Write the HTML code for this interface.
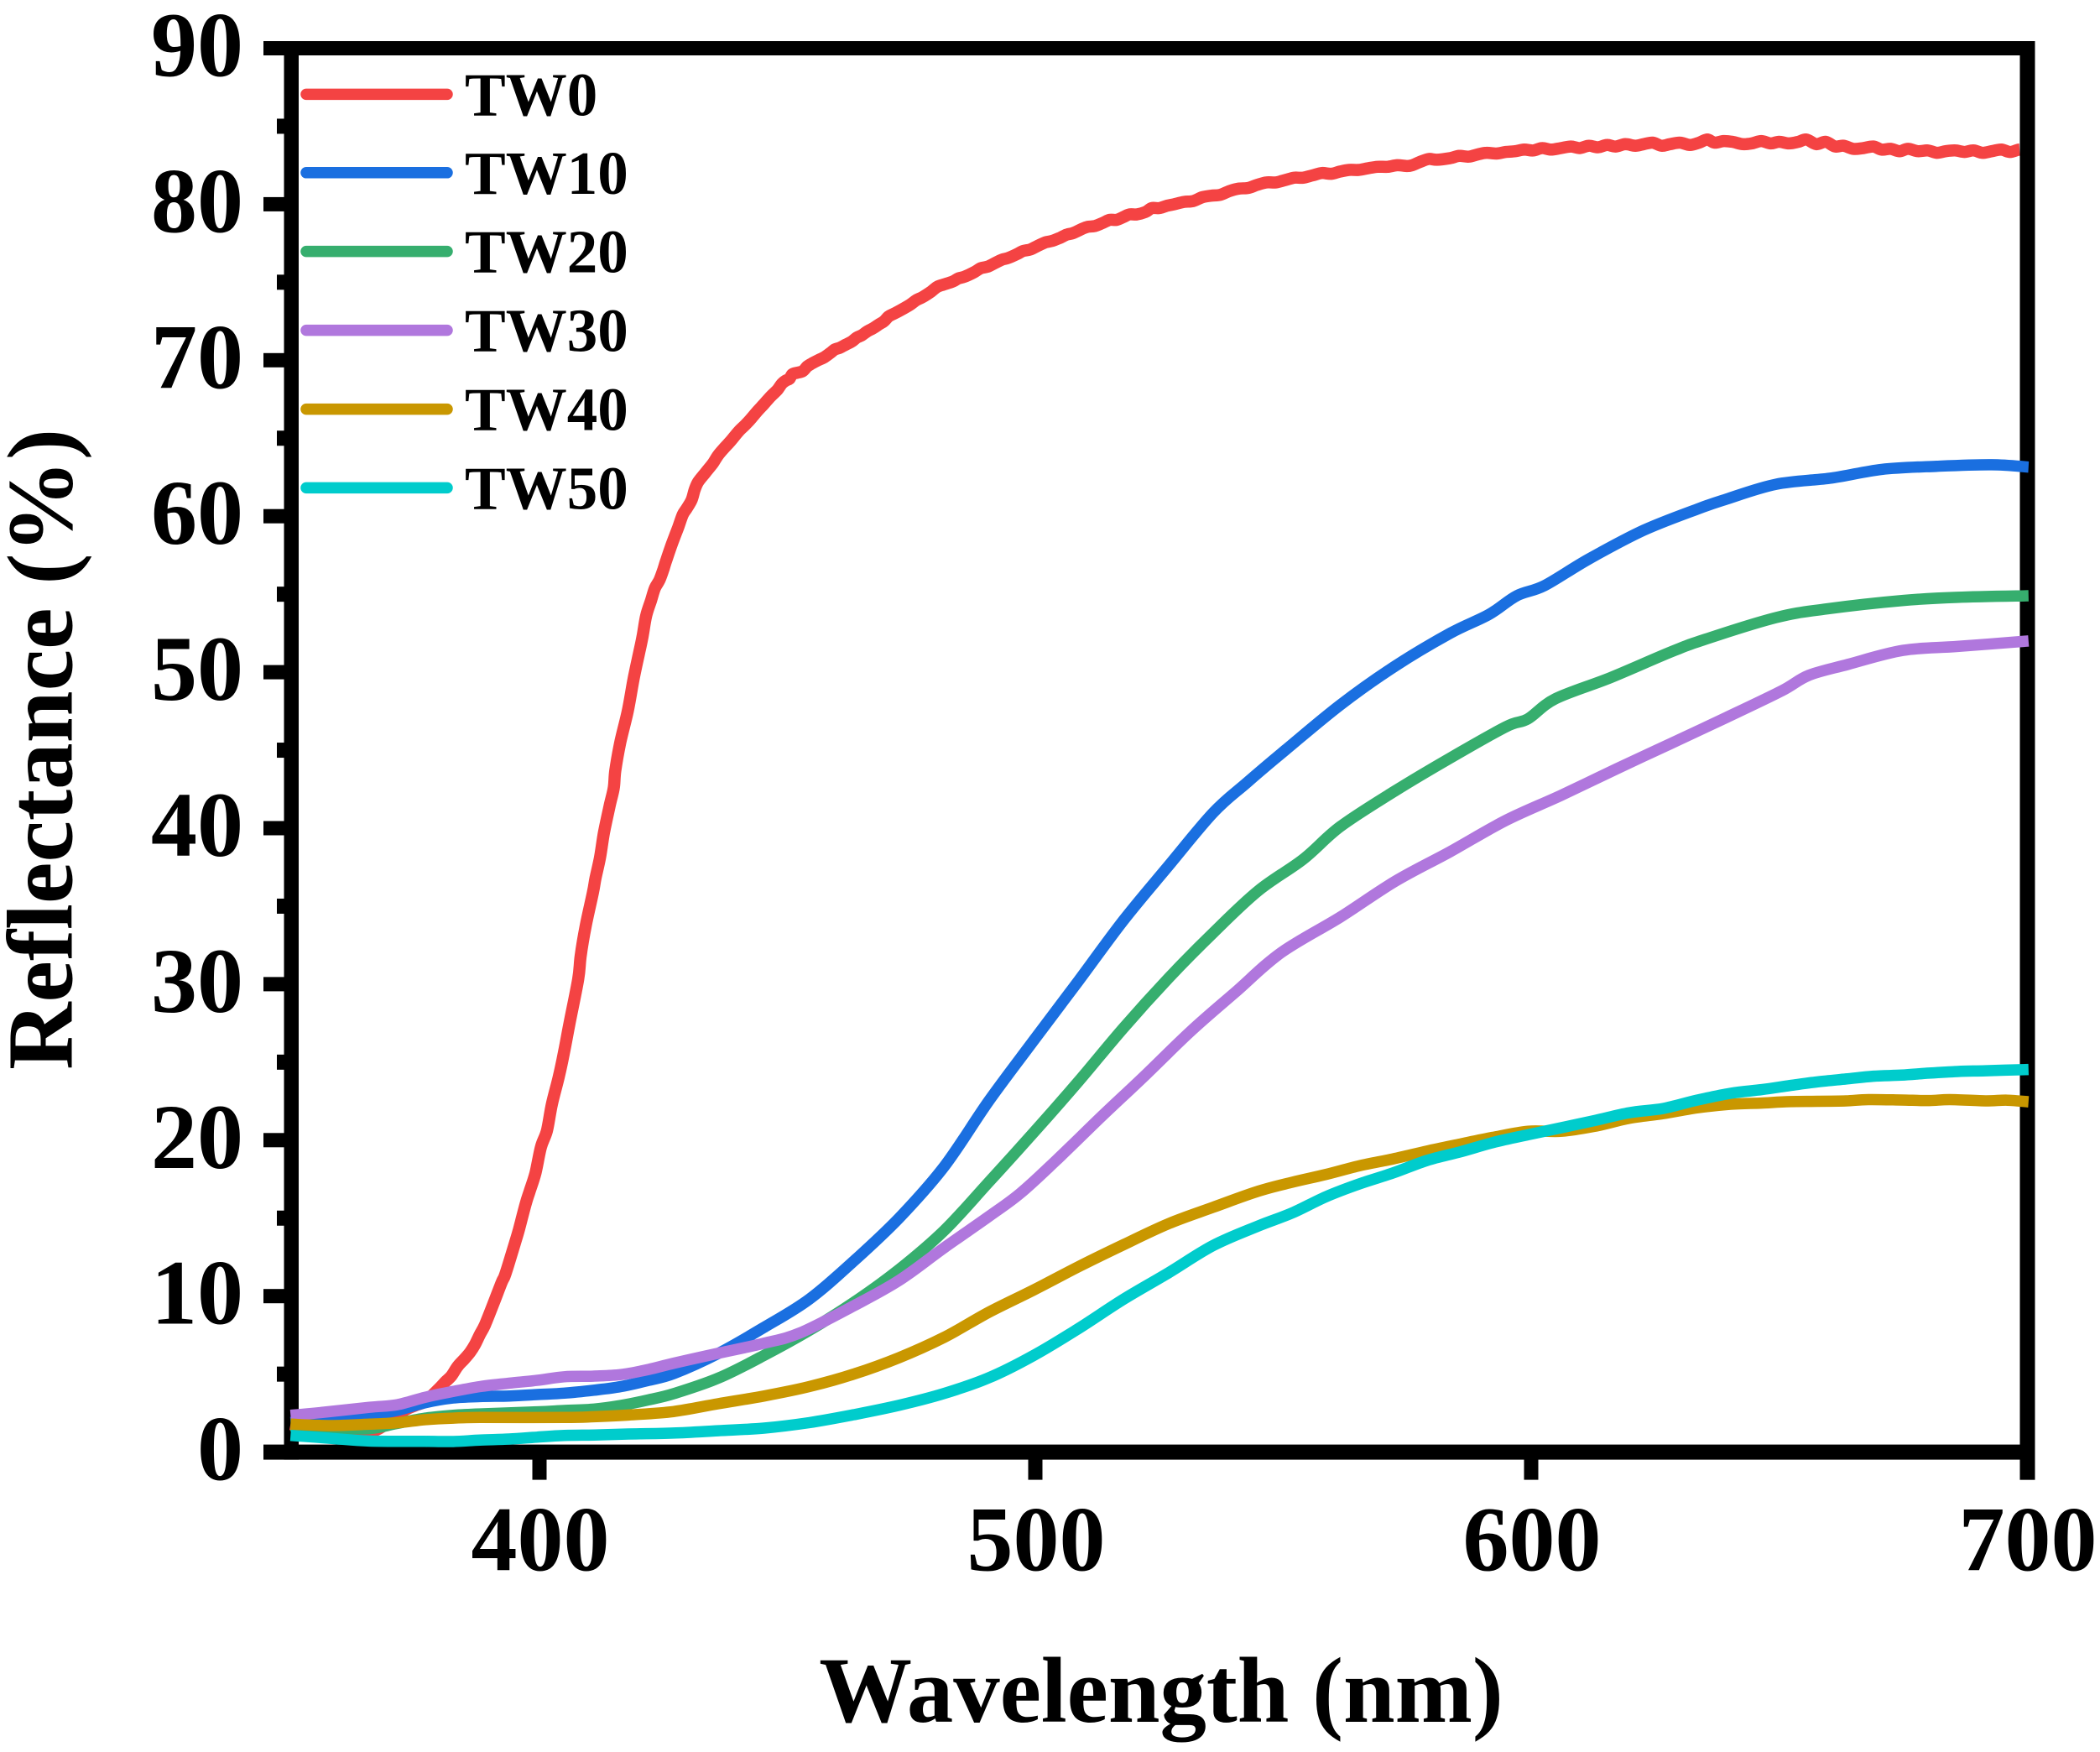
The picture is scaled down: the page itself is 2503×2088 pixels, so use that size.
<!DOCTYPE html>
<html>
<head>
<meta charset="utf-8">
<title>Reflectance spectra</title>
<style>
html,body{margin:0;padding:0;background:#fff}
svg{display:block}
text{font-family:"Liberation Serif",serif;font-weight:bold;fill:#000}
</style>
</head>
<body>
<svg id="chart" xmlns="http://www.w3.org/2000/svg" width="2503" height="2088" viewBox="0 0 2503 2088"></svg>
<script>
const xTickValues = [400, 500, 600, 700];
const yTickValues = [0, 10, 20, 30, 40, 50, 60, 70, 80, 90];
const yMinorValues = [5, 15, 25, 35, 45, 55, 65, 75, 85];
const xTitle = "Wavelength (nm)";
const yTitle = "Reflectance (%)";
const seriesNames = ["TW0", "TW10", "TW20", "TW30", "TW40", "TW50"];

const tw0Nm = [349.8,355,360,365.7,367.4,370,372.9,375,377,379.7,381,382.2,383.5,384.8,386,387,388,389,390.7,392.4,393,394.1,395,395.8,397.2,398,399.2,400.3,401.5,402.5,403.9,405,406,407.8,408.3,409.3,410.8,411.3,412.2,413,414.2,415,415.3,416.3,417.8,419,420,420.8,421.5,422.5,423.3,424.2,425,425.5,426.8,428,428.9,429.7,430.7,431.3,432,433.5,435,436,437.2,438.5,440.2,441.5,442.8,444,445.3,446.7,448,448.9,449.7,450.4,451,452,453.1,454,455,456.2,457.5,458.8,459.6,460.6,461.8,463,464,465,466.1,467.3,468.5,469.5,470.4,471.6,472.8,474.7,476,477.3,479,480.2,481.5,483.4,484.5,485.7,487.7,489,490.4,492,493.3,494.5,496.3,497.5,499,500.6,502,503.4,505,506.3,507.6,509.3,510.5,512,513.6,515,516.4,517.9,519,520.5,522.2,523.5,525,526.5,528,530,531.8,533.7,535.5,537.3,539.2,541,543,544.8,546.6,548.5,550.4,552.2,554,555.9,557.8,559.7,561.5,563.3,565.2,567,569,571,573,575,576,577.5,579.3,581,583.7,585.5,587.4,589.3,591,593,594.9,596.8,598.6,600.4,602.2,604,606,608,609.8,611.6,613.5,615.3,617,619,621,622.7,624.5,626.3,628,630,632,633.9,635.5,637,638.8,640.6,642.7,644.5,646.4,648.3,650,652,653.9,655.5,657.5,659.4,661.3,663,665,667,669,670.7,672.5,674.3,676,678,680,681.8,683.6,685.5,687.4,689.2,691,692.9,694.8,696.6,698.5,700.3];
const tw0Values = [1.8,1.5,1.35,1.37,1.47,2.0,2.7,3.0,3.26,4.06,4.5,4.87,5.5,5.95,6.4,6.9,7.55,8.15,9.5,10.9,11.3,12.4,13.35,14.2,15.9,16.7,17.9,19.56,20.6,22.3,24.06,25.7,27.4,30.3,31.8,33.7,35.9,36.8,38.1,39.7,41.5,42.6,43.7,45.5,47.5,49.6,51.1,52.3,53.6,54.6,55.4,55.9,56.6,57.1,58.3,59.3,60.1,60.5,61.05,61.7,62.2,62.8,63.4,63.9,64.35,64.8,65.45,65.85,66.3,66.75,67.2,67.7,68.1,68.5,68.7,68.8,69.1,69.2,69.3,69.6,69.8,70.0,70.2,70.5,70.7,70.8,71.0,71.2,71.45,71.6,71.85,72.05,72.3,72.5,72.8,73.0,73.2,73.55,73.85,74.05,74.4,74.7,74.85,75.05,75.25,75.35,75.65,75.9,76.0,76.25,76.45,76.55,76.8,77.0,77.1,77.35,77.55,77.65,77.85,78.05,78.15,78.4,78.55,78.6,78.8,79.0,79.0,79.2,79.35,79.35,79.5,79.75,79.75,79.9,80.0,80.15,80.2,80.45,80.55,80.6,80.85,81.0,81.05,81.25,81.4,81.4,81.55,81.7,81.7,81.85,82.0,81.95,82.1,82.2,82.2,82.3,82.4,82.4,82.5,82.45,82.5,82.7,82.9,82.85,82.96,83.1,83.05,83.2,83.3,83.25,83.35,83.4,83.5,83.45,83.6,83.5,83.6,83.7,83.6,83.75,83.65,83.8,83.7,83.85,83.75,83.85,83.95,83.75,83.85,83.95,83.8,83.95,84.15,83.95,84.05,84.0,83.85,83.9,84.05,83.9,84.0,83.9,84.0,84.15,83.85,84.0,83.7,83.75,83.55,83.6,83.7,83.5,83.55,83.4,83.55,83.4,83.45,83.3,83.4,83.45,83.35,83.45,83.3,83.4,83.5,83.35,83.5,83.4,83.6];

const tw10Nm = [349.8,357.7,365.7,371,377,382.6,388,394,399.5,405,411,416.4,422,427.2,436.2,445.3,454.4,463.4,472.5,481.6,490.6,499.7,508.8,517.8,526.9,535.9,542.6,550.4,561.5,572.6,583.7,591.5,597.1,602.7,611.6,622.7,633.9,639.4,649.4,660.6,670.7,681.8,692.9,700.3];
const tw10Values = [1.9,2.1,2.4,2.65,3.17,3.47,3.56,3.6,3.69,3.78,3.97,4.2,4.6,5.05,6.35,8.0,9.8,12.25,15.0,18.3,22.5,26.4,30.25,34.1,37.6,41,42.9,45.0,47.9,50.4,52.5,53.7,54.9,55.55,57.25,59.1,60.5,61.1,62.05,62.45,63,63.2,63.3,63.15];

const tw20Nm = [349.8,358,365.7,371,377,382.6,388,399.5,405,411,416.4,422,427.2,436.2,445.3,454.4,463.4,472.5,481.6,490.6,499.7,508.8,517.8,526.9,535.9,545,554,561.5,572.6,583.7,594.9,599.3,604.9,616,628.2,635,649.4,659.4,675,686,700.3];
const tw20Values = [1.7,1.55,1.5,1.82,2.18,2.36,2.45,2.58,2.67,2.76,2.99,3.35,3.76,4.76,6.2,7.8,9.6,11.7,14.2,17.3,20.5,23.8,27.2,30.4,33.3,36,38,40.1,42.4,44.5,46.5,47,48.3,49.65,51.3,52.1,53.5,54.05,54.6,54.8,54.9];

const tw30Nm = [349.8,356,365.7,371.3,377,382.6,388,393.9,399.5,405,410.8,416.4,422,427.2,436.2,445.3,452.6,463.4,472.5,481.6,490.6,497,504.2,513.3,522.3,531.4,540.4,549.5,561.5,572.6,583.7,594.9,606,617.2,628,639.4,650.5,656,663.9,675,686,700.3];
const tw30Values = [2.36,2.54,2.87,3.04,3.52,3.89,4.2,4.42,4.6,4.83,4.87,4.97,5.3,5.71,6.35,6.98,7.65,9.38,11.0,13.1,15.1,16.6,18.7,21.5,24.2,27,29.5,32,34.3,36.6,38.5,40.5,42.1,43.8,45.4,47.1,48.8,49.8,50.5,51.4,51.65,52.0];

const tw40Nm = [349.8,357.8,365.7,371.3,377,382.6,388,405,411,418,427,436,445.3,454.4,463.4,472.5,481.6,490.6,499.7,508.8,517.8,526.9,535.9,545,551.8,558.6,565.4,572.2,579,585.8,592.6,599.4,606.2,613,619.8,626.6,633.4,640.2,646.5,652.2,657.8,663.5,668,674.7,680.3,684.5,691.6,696,700.3];
const tw40Values = [1.79,1.7,1.79,1.88,2.08,2.18,2.22,2.22,2.27,2.38,2.6,3.1,3.6,4.2,5,6.05,7.36,8.96,10.4,11.9,13.3,14.65,15.7,16.73,17.3,17.8,18.36,18.8,19.3,19.76,20.2,20.57,20.57,20.9,21.4,21.7,22.07,22.3,22.38,22.47,22.49,22.52,22.6,22.57,22.54,22.6,22.52,22.56,22.46];

const tw50Nm = [349.8,357.8,365.7,377,382.6,388,393.9,399.5,405,411,418,427,436,445.3,454.4,463.4,472.5,481.6,490.6,499.7,508.8,517.8,526.9,535.9,545,551.8,558.6,565.4,572.2,579,585.8,592.6,599.4,606.2,613,619.8,626.6,633.4,640.2,646.5,652.2,657.8,663.5,669,674.7,680.3,686,691.6,700.3];
const tw50Values = [1.07,0.89,0.71,0.69,0.68,0.77,0.84,0.96,1.07,1.1,1.16,1.22,1.37,1.54,1.89,2.4,3,3.76,4.76,6.2,7.94,9.8,11.5,13.25,14.5,15.33,16.37,17.2,17.9,18.7,19.26,19.87,20.35,20.8,21.27,21.76,22.03,22.56,23,23.24,23.5,23.74,23.92,24.1,24.17,24.3,24.4,24.45,24.53];

const NS = "http://www.w3.org/2000/svg";
const svg = document.getElementById("chart");
const colors = ["#F44343", "#1A6FE0", "#36AE6E", "#B077DD", "#C99700", "#00CCCC"];
const lineWidths = [14.5, 13.5, 13.5, 13.5, 13.5, 13.5];
function xScale(nm) { return 643 + (nm - 400) * 5.91; }
function yScale(v) { return 1730.6 - v * 18.59; }
function add(tag, attrs, name, interact, text) {
  const el = document.createElementNS(NS, tag);
  for (const k in attrs) el.setAttribute(k, attrs[k]);
  
  
  if (text !== undefined) el.textContent = text;
  svg.appendChild(el);
  return el;
}
function smoothPath(pts) {
  let d = "M" + pts[0][0].toFixed(1) + " " + pts[0][1].toFixed(1);
  for (let i = 0; i < pts.length - 1; i++) {
    const p0 = pts[Math.max(i - 1, 0)], p1 = pts[i], p2 = pts[i + 1], p3 = pts[Math.min(i + 2, pts.length - 1)];
    const c1x = p1[0] + (p2[0] - p0[0]) / 6, c1y = p1[1] + (p2[1] - p0[1]) / 6;
    const c2x = p2[0] - (p3[0] - p1[0]) / 6, c2y = p2[1] - (p3[1] - p1[1]) / 6;
    d += "C" + c1x.toFixed(1) + " " + c1y.toFixed(1) + " " + c2x.toFixed(1) + " " + c2y.toFixed(1) + " " + p2[0].toFixed(1) + " " + p2[1].toFixed(1);
  }
  return d;
}

const frameT = yScale(90) - 8.5, frameR = xScale(700) + 9.5, frameB = yScale(0) + 9;
add("rect", {x:314, y:frameT, width:frameR-314, height:17}, "top-spine", "false");
add("rect", {x:314, y:yScale(0)-9, width:frameR-314, height:18}, "bottom-spine", "false");
add("rect", {x:338.5, y:frameT, width:17.5, height:frameB-frameT}, "left-spine", "false");
add("rect", {x:xScale(700)-8.5, y:frameT, width:18, height:1763.6-frameT}, "right-spine", "false");

yTickValues.forEach(function (v) {
  add("rect", {x:314, y:yScale(v)-8.5, width:25, height:17}, "y-major-tick-" + v, "false");
  add("text", {x:290, y:yScale(v)+33, "font-size":110, "text-anchor":"end"}, "y-tick-label-" + v, "false", String(v));
});
yMinorValues.forEach(function (v) {
  add("rect", {x:330, y:yScale(v)-9, width:9, height:18}, "y-minor-tick-" + v, "false");
});
xTickValues.forEach(function (v) {
  add("rect", {x:xScale(v)-8.5, y:yScale(0), width:v===700?18:17, height:1763.6-yScale(0)}, "x-major-tick-" + v, "false");
  add("text", {x:xScale(v)+1, y:1871.5, "font-size":110, "text-anchor":"middle"}, "x-tick-label-" + v, "false", String(v));
});

add("text", {x:1384, y:2052, "font-size":110.8, "text-anchor":"middle"}, "x-axis-title", "false", xTitle);
add("text", {x:0, y:0, "font-size":111.4, "text-anchor":"middle", transform:"translate(85.5 893) rotate(-90)"}, "y-axis-title", "false", yTitle);

const seriesNm = [tw0Nm, tw10Nm, tw20Nm, tw30Nm, tw40Nm, tw50Nm];
const seriesValues = [tw0Values, tw10Values, tw20Values, tw30Values, tw40Values, tw50Values];
seriesNames.forEach(function (name, i) {
  const pts = seriesValues[i].map(function (v, j) {
    return [xScale(seriesNm[i][j]), yScale(v)];
  });
  add("path", {d:smoothPath(pts), fill:"none", stroke:colors[i], "stroke-width":lineWidths[i], "stroke-linejoin":"round", "stroke-linecap":"butt"}, "series-line-" + name.toLowerCase(), "false");
});

const legendY = [112.4, 205.8, 299.6, 393.6, 487.6, 581.4];
seriesNames.forEach(function (name, i) {
  add("line", {x1:365, x2:533, y1:legendY[i], y2:legendY[i], stroke:colors[i], "stroke-width":13.5, "stroke-linecap":"round"}, "legend-line-" + name.toLowerCase(), "false");
  add("text", {x:554, y:legendY[i]+25, "font-size":73}, "legend-label-" + name.toLowerCase(), "false", name);
});
</script>
</body>
</html>
